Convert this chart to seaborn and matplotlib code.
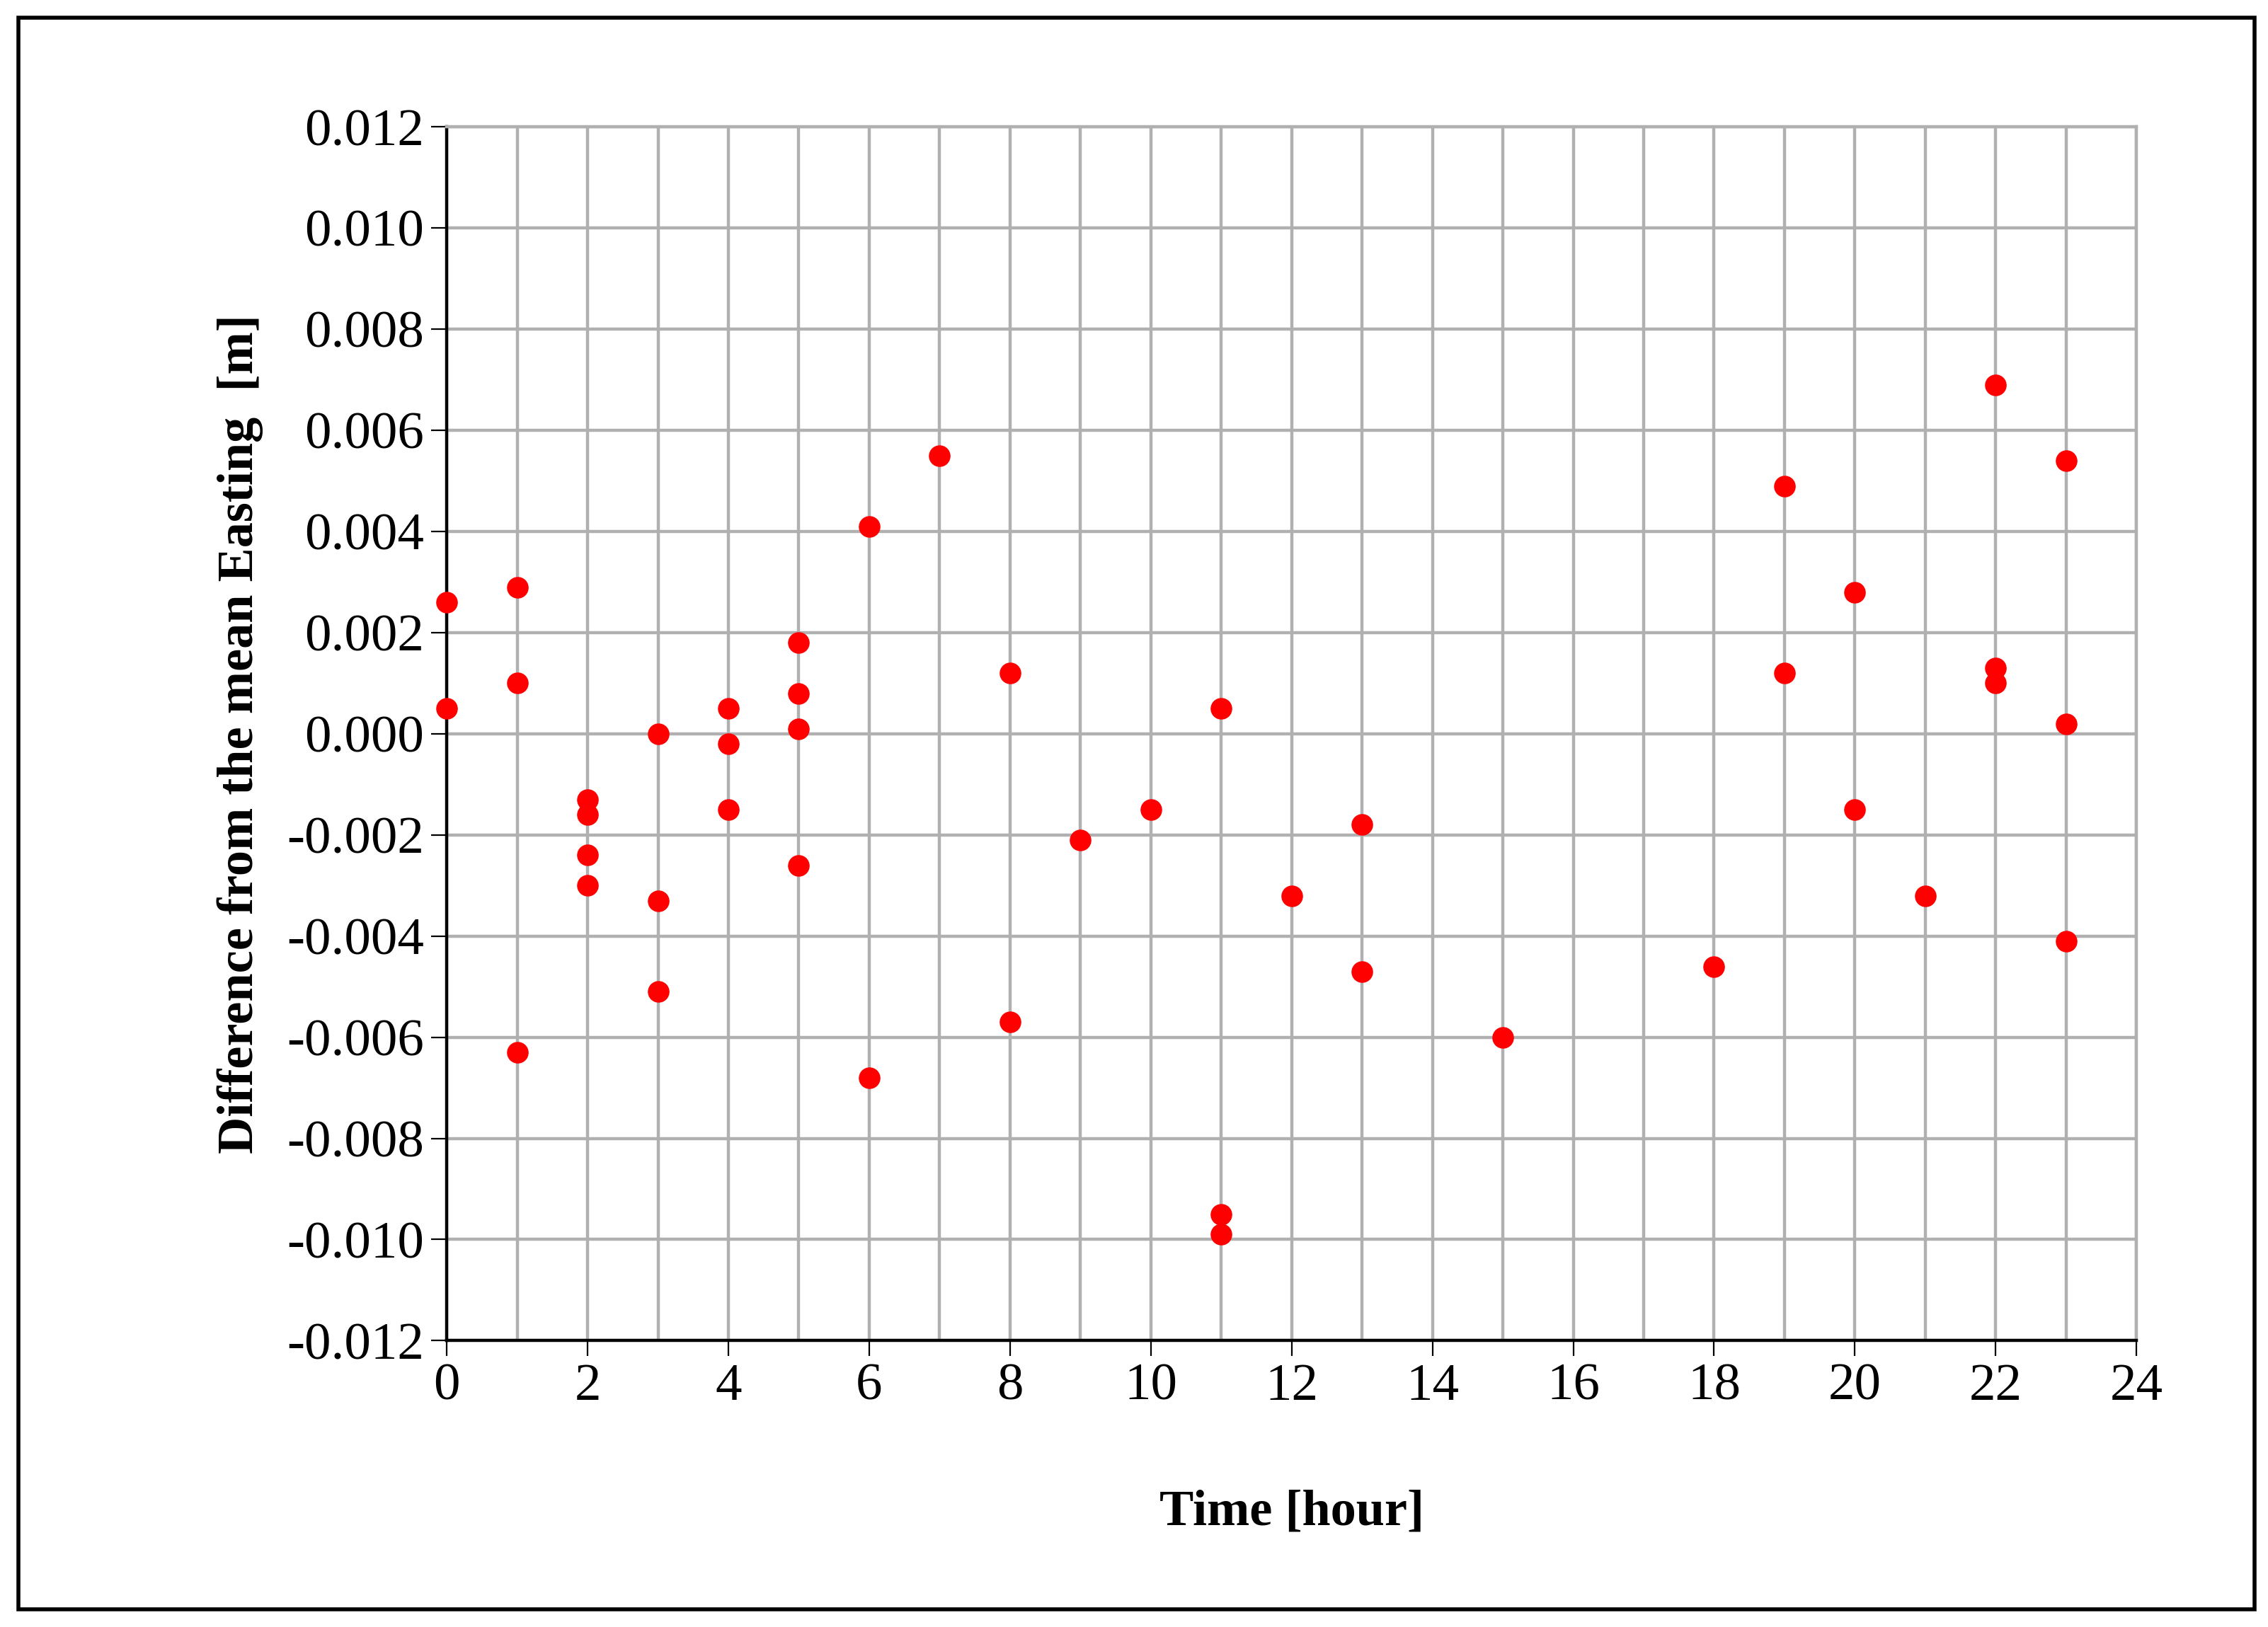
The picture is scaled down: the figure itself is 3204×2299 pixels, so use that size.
import numpy as np
import pandas as pd
import seaborn as sns
import matplotlib.pyplot as plt
from matplotlib.ticker import MultipleLocator, FormatStrFormatter
from matplotlib.patches import Rectangle

hours = [0, 0, 1, 1, 1, 2, 2, 2, 2, 3, 3, 3, 4, 4, 4, 5, 5, 5, 5, 6, 6, 7, 8, 8,
         9, 10, 11, 11, 11, 12, 13, 13, 15, 18, 19, 19, 20, 20, 21, 22, 22, 22,
         23, 23, 23]
diff_easting = [0.0026, 0.0005, 0.0029, 0.0010, -0.0063, -0.0013, -0.0016, -0.0024,
                -0.0030, 0.0000, -0.0033, -0.0051, 0.0005, -0.0002, -0.0015, 0.0018,
                0.0008, 0.0001, -0.0026, 0.0041, -0.0068, 0.0055, 0.0012, -0.0057,
                -0.0021, -0.0015, 0.0005, -0.0095, -0.0099, -0.0032, -0.0018, -0.0047,
                -0.0060, -0.0046, 0.0049, 0.0012, 0.0028, -0.0015, -0.0032, 0.0069,
                0.0013, 0.0010, 0.0054, 0.0002, -0.0041]

df = pd.DataFrame({"hour": hours, "diff": diff_easting})

sns.set_style("white")
plt.rcParams['font.family'] = ['Liberation Serif', 'DejaVu Serif']
plt.rcParams['text.color'] = 'black'
plt.rcParams['axes.labelcolor'] = 'black'
plt.rcParams['xtick.color'] = 'black'
plt.rcParams['ytick.color'] = 'black'

fig = plt.figure(figsize=(16.02, 11.495), dpi=200)
ax = fig.add_axes([0.197, 0.176, 0.745, 0.746])

sns.scatterplot(data=df, x="hour", y="diff", color="#ff0000", s=110,
                edgecolor="#ff0000", linewidth=0.5, zorder=3, ax=ax, clip_on=False)

ax.set_xlim(0, 24)
ax.set_ylim(-0.012, 0.012)
ax.xaxis.set_major_locator(MultipleLocator(2))
ax.xaxis.set_minor_locator(MultipleLocator(1))
ax.yaxis.set_major_locator(MultipleLocator(0.002))
ax.yaxis.set_major_formatter(FormatStrFormatter('%.3f'))
ax.grid(which='both', axis='x', color='#b0b0b0', linewidth=1.6)
ax.grid(which='major', axis='y', color='#b0b0b0', linewidth=1.6)
ax.set_axisbelow(True)
for sp in ax.spines.values():
    sp.set_color('#b0b0b0')
    sp.set_linewidth(1.6)
ax.spines['left'].set_color('black')
ax.spines['bottom'].set_color('black')
ax.tick_params(axis='both', which='major', labelsize=27, length=8, direction='out',
               color='black', left=True, bottom=True)
ax.tick_params(axis='x', which='minor', length=0)

ax.set_xlabel("Time [hour]", fontsize=26, fontweight='bold', labelpad=40)
ax.set_ylabel("Difference from the mean Easting  [m]", fontsize=26, fontweight='bold', labelpad=12)

fig.patches.append(Rectangle((0.008, 0.011), 0.986, 0.978, transform=fig.transFigure,
                             fill=False, edgecolor='black', linewidth=2))

fig.savefig("out.png", dpi=200)
